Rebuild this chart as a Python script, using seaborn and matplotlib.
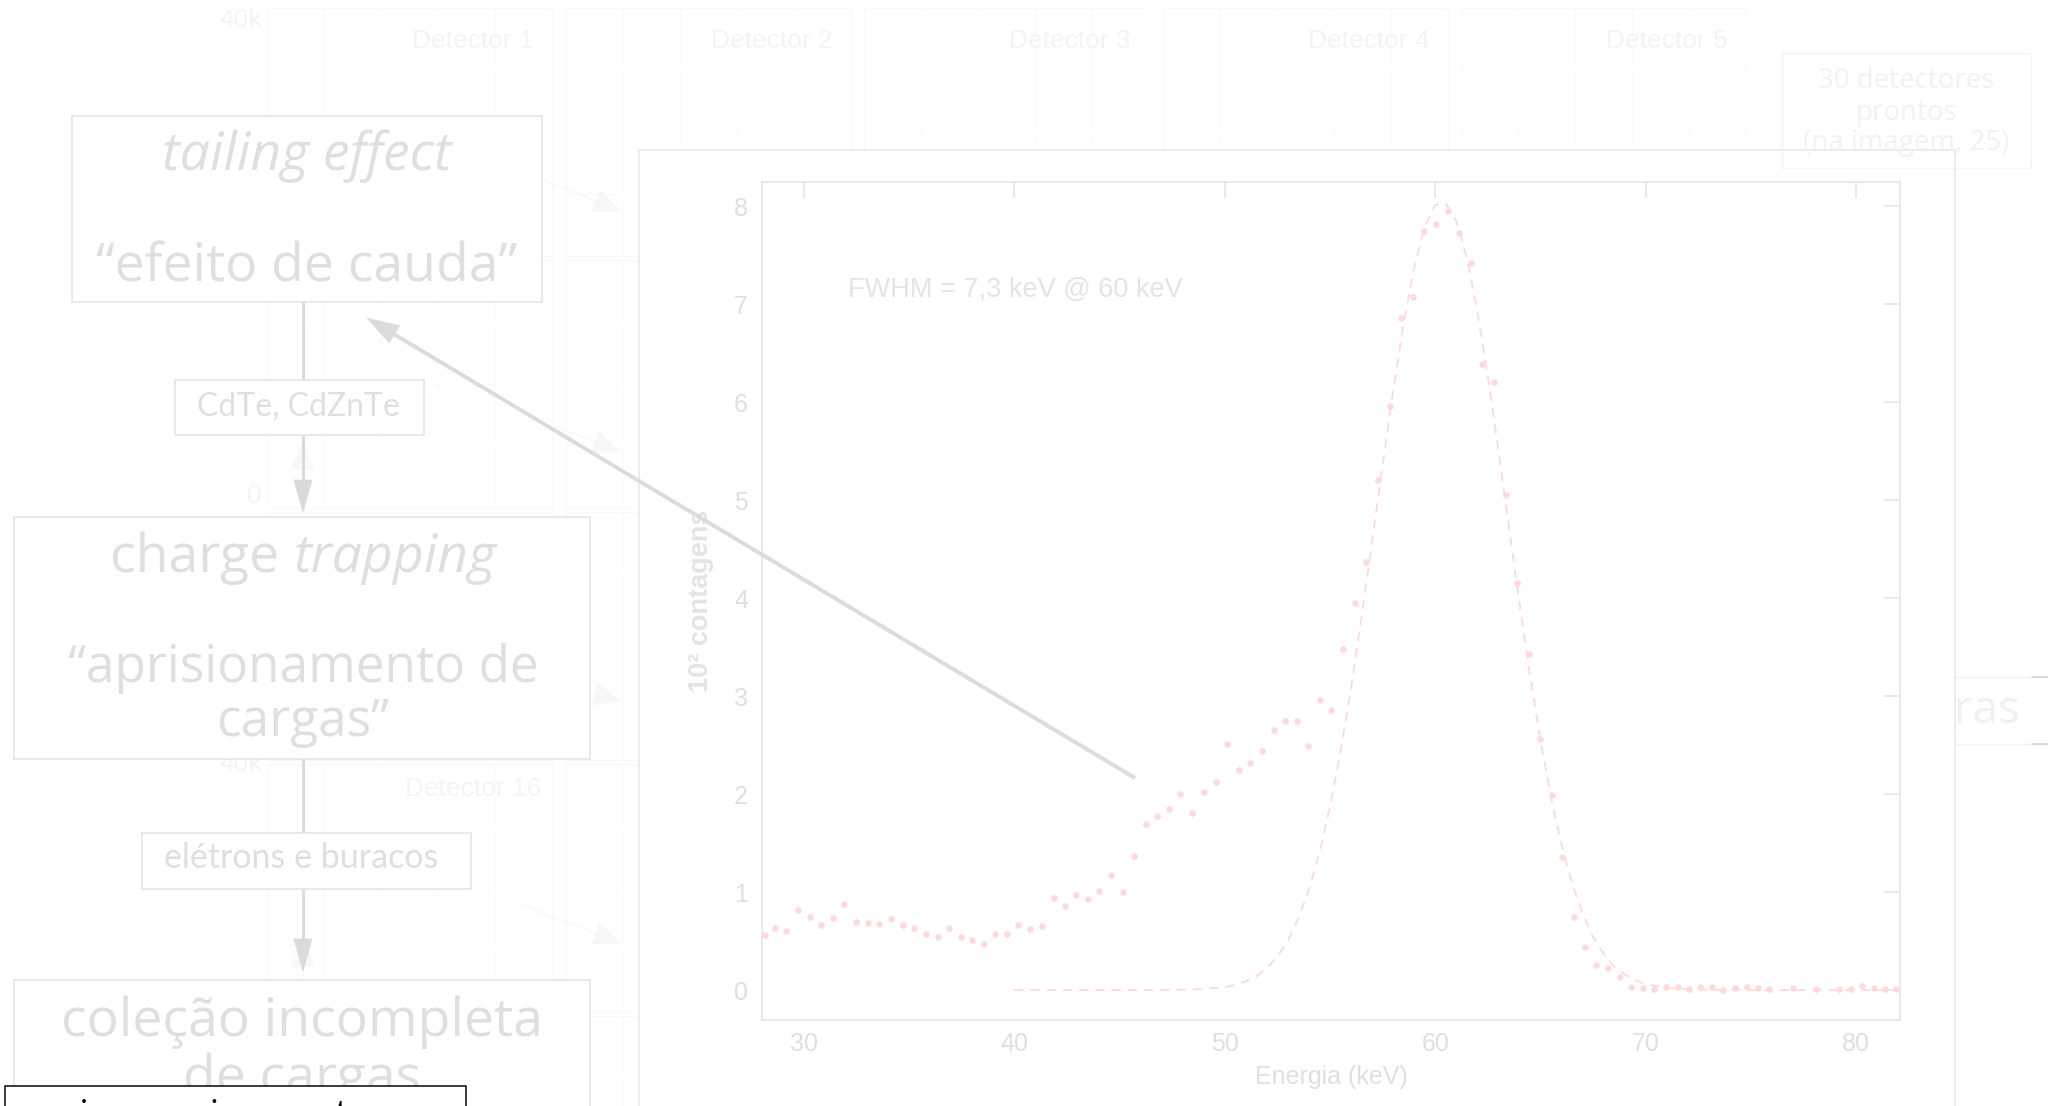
import numpy as np
import pandas as pd
import matplotlib
matplotlib.use("Agg")
import matplotlib.pyplot as plt
import seaborn as sns
from matplotlib.patches import Rectangle, Polygon

# ---------------- data ----------------
energy_kev = [28.14, 28.63, 29.17, 29.74, 30.28, 30.84, 31.38, 31.93, 32.48, 33.04,
              33.59, 34.14, 34.70, 35.25, 35.80, 36.36, 36.90, 37.45, 38.00, 38.56,
              39.11, 39.65, 40.20, 40.76, 41.31, 41.87, 42.40, 42.96, 43.51, 44.05,
              44.60, 45.15, 45.71, 46.26, 46.80, 47.37, 47.90, 48.46, 49.01, 49.57,
              50.12, 50.67, 51.21, 51.77, 52.32, 52.88, 53.43, 53.97, 54.52, 55.07,
              55.61, 56.18, 56.73, 57.27, 57.83, 58.38, 58.93, 59.49, 60.04, 60.59,
              61.15, 61.70, 62.24, 62.80, 63.35, 63.90, 64.44, 65.00, 65.55, 66.02,
              66.58, 67.11, 67.66, 68.21, 68.77, 69.30, 69.85, 70.40, 70.96, 71.52,
              72.05, 72.60, 73.13, 73.69, 74.24, 74.80, 75.35, 75.88, 76.99, 78.10,
              79.18, 79.73, 80.28, 80.83, 81.37, 81.90]
counts_1e2 = [0.56, 0.63, 0.60, 0.82, 0.75, 0.66, 0.73, 0.88, 0.69, 0.68,
              0.67, 0.72, 0.66, 0.63, 0.57, 0.54, 0.63, 0.54, 0.51, 0.47,
              0.57, 0.57, 0.66, 0.62, 0.65, 0.94, 0.86, 0.97, 0.93, 1.01,
              1.17, 1.00, 1.37, 1.69, 1.78, 1.85, 2.00, 1.81, 2.02, 2.12,
              2.51, 2.24, 2.32, 2.44, 2.65, 2.74, 2.75, 2.49, 2.96, 2.86,
              3.48, 3.95, 4.37, 5.20, 5.96, 6.86, 7.07, 7.74, 7.82, 7.95,
              7.72, 7.42, 6.39, 6.20, 5.05, 4.15, 3.43, 2.56, 1.99, 1.36,
              0.74, 0.44, 0.26, 0.22, 0.13, 0.03, 0.02, 0.01, 0.03, 0.03,
              0.01, 0.03, 0.03, 0.00, 0.02, 0.03, 0.02, 0.01, 0.02, 0.01,
              0.01, 0.01, 0.04, 0.02, 0.01, 0.01]

fit_energy_kev = [40, 42, 44, 46, 48, 49, 50,
                  50.5, 51, 51.5, 52, 52.5, 53, 53.5, 54, 54.5, 55,
                  55.5, 56, 56.5, 57, 57.5, 58, 58.5, 59, 59.5, 60,
                  60.5, 61, 61.5, 62, 62.5, 63, 63.5, 64, 64.5, 65,
                  65.5, 66, 66.5, 67, 67.5, 68, 68.5, 69, 69.5, 70,
                  71, 72, 73, 74, 76, 78, 80, 82]
fit_counts_1e2 = [0.0, 0.0, 0.0, 0.0, 0.003, 0.01, 0.03,
                  0.05, 0.09, 0.14, 0.22, 0.34, 0.50, 0.73, 1.02, 1.40, 1.87,
                  2.43, 3.08, 3.80, 4.57, 5.35, 6.11, 6.80, 7.37, 7.79, 8.01,
                  8.03, 7.85, 7.47, 6.93, 6.26, 5.51, 4.73, 3.95, 3.22, 2.55,
                  1.97, 1.49, 1.09, 0.78, 0.54, 0.37, 0.24, 0.16, 0.10, 0.06,
                  0.02, 0.006, 0.002, 0.0, 0.0, 0.0, 0.0, 0.0]

x_ticks = [30, 40, 50, 60, 70, 80]
y_ticks = [0, 1, 2, 3, 4, 5, 6, 7, 8]
x_label = "Energia (keV)"
y_label = "10² contagens"
fwhm_note = "FWHM = 7,3 keV @ 60 keV"

detector_titles = ["Detector 1", "Detector 2", "Detector 3", "Detector 4", "Detector 5"]
detector_title_low = "Detector 16"
bg_axis_labels = ["40k", "0", "40k"]
ready_note = ["30 detectores", "prontos", "(na imagem, 25)"]
side_word = "amostras"
flow_top = ["tailing effect", "“efeito de cauda”"]
flow_material = "CdTe, CdZnTe"
flow_mid = [("charge ", "normal"), ("trapping", "italic")]
flow_mid_pt = ["“aprisionamento de", "cargas”"]
flow_carriers = "elétrons e buracos"
flow_bottom = ["coleção incompleta", "de cargas"]
black_box_lines = ["cria um pico em torno", "de energias menores"]

# ---------------- style ----------------
sns.set_theme(style="white")
plt.rcParams['font.family'] = ['Liberation Sans', 'DejaVu Sans']

W, H = 2048, 1106
PX = 0.72  # points per pixel at dpi=100
fig = plt.figure(figsize=(W / 100, H / 100), dpi=100)
fig.patch.set_facecolor("white")

bg = fig.add_axes([0, 0, 1, 1], zorder=0)
bg.set_xlim(0, W)
bg.set_ylim(H, 0)
bg.axis("off")

GRID = "#f9f9f9"
FAINT_TXT = "#f4f4f4"
BOX_EDGE = "#e3e3e3"
TXT = "#dfdfdf"
CONN = "#dadada"

# faint background: detector spectra grid
col_left = [267, 566, 864, 1163, 1461]
row_top = [8, 260, 512, 764, 1016]
for cl in col_left:
    for rt in row_top:
        bg.add_patch(Rectangle((cl, rt), 285, 248, fill=False, ec=GRID, lw=0.8, zorder=0))
        for gx in range(1, 5):
            bg.plot([cl + gx * 57, cl + gx * 57], [rt, rt + 248], color=GRID, lw=0.5, zorder=0)
        for gy in range(1, 4):
            bg.plot([cl, cl + 285], [rt + gy * 62, rt + gy * 62], color=GRID, lw=0.5, zorder=0)
for cl, title in zip(col_left, detector_titles):
    bg.text(cl + 206, 48, title, color=FAINT_TXT, fontsize=19, ha="center",
            va="baseline", zorder=0)
bg.text(473, 796, detector_title_low, color=FAINT_TXT, fontsize=19, ha="center",
        va="baseline", zorder=0)
for lbl, yy in zip(bg_axis_labels, [20, 496, 764]):
    bg.text(262, yy, lbl, color=FAINT_TXT, fontsize=19, ha="right", va="center", zorder=0)


def arrow_px(ax, x0, y0, x1, y1, color, lw_px, head_len, head_half, z):
    d = np.array([x1 - x0, y1 - y0], dtype=float)
    L = np.hypot(*d)
    u = d / L
    n = np.array([-u[1], u[0]])
    base = np.array([x1, y1]) - head_len * u
    ax.plot([x0, base[0]], [y0, base[1]], color=color, lw=lw_px * PX,
            solid_capstyle="butt", zorder=z)
    ax.add_patch(Polygon([[x1, y1], base + head_half * n, base - head_half * n],
                         closed=True, fc=color, ec=color, lw=0.5, zorder=z))


# faint background arrows
for (x0, y0, x1, y1) in [(542, 179, 620, 211), (560, 428, 620, 452),
                         (555, 683, 620, 701), (522, 905, 620, 943)]:
    arrow_px(bg, x0, y0, x1, y1, "#f7f7f7", 1.2, 26, 11, 0.5)
for (x0, y0, x1, y1) in [(303, 500, 303, 443), (303, 1000, 303, 940)]:
    arrow_px(bg, x0, y0, x1, y1, "#f8f8f8", 1.2, 26, 11, 0.5)

# right side faint box partly under the panel
bg.add_patch(Rectangle((1880, 677), 200, 67, fc="white", ec="#f3f3f3", lw=1.0, zorder=1))
bg.text(2021, 723, side_word, color="#f0f0f0", fontsize=33,
        family=["Open Sans", "DejaVu Sans"], ha="right", va="baseline", zorder=1)
bg.plot([2032, 2048], [677, 677], color="#d2d2d2", lw=1.5 * PX, zorder=1)
bg.plot([2032, 2048], [744, 744], color="#d2d2d2", lw=1.5 * PX, zorder=1)

# panel holding the spectrum
bg.add_patch(Rectangle((639, 150), 1316, 1000, fc="white", ec="#e6e6e6", lw=1.5 * PX, zorder=2))

# "30 detectores" note, drawn over the panel edge
bg.add_patch(Rectangle((1782, 53), 249, 115, fill=False, ec="#f4f4f4", lw=1.0, zorder=2.2))
for s, yy in zip(ready_note, [88, 120, 150]):
    bg.text(1906, yy, s, color="#f2f2f2", fontsize=20, family=["Open Sans", "DejaVu Sans"],
            ha="center", va="baseline", zorder=2.2)

# left flow boxes
OS = ["Open Sans", "DejaVu Sans"]
LATO = ["Lato", "DejaVu Sans"]
for (x, y, w, h) in [(72, 116, 470, 186), (175, 380, 249, 55), (14, 517, 576, 242),
                     (142, 833, 329, 56), (14, 980, 576, 220)]:
    bg.add_patch(Rectangle((x, y), w, h, fc="white", ec=BOX_EDGE, lw=1.5 * PX, zorder=3))

bg.plot([303, 303], [302, 380], color=CONN, lw=3 * PX, zorder=2.5)
arrow_px(bg, 303, 435, 303, 512, CONN, 3, 32, 9, 2.5)
bg.plot([303, 303], [759, 833], color=CONN, lw=3 * PX, zorder=2.5)
arrow_px(bg, 303, 889, 303, 971, CONN, 3, 32, 9, 2.5)

BIG = 38.5
bg.text(307, 170, flow_top[0], color=TXT, fontsize=BIG, family=OS, style="italic",
        ha="center", va="baseline", zorder=4)
bg.text(307, 282, flow_top[1], color=TXT, fontsize=BIG, family=OS,
        ha="center", va="baseline", zorder=4)
bg.text(298, 416, flow_material, color=TXT, fontsize=23, family=LATO,
        ha="center", va="baseline", zorder=4)
bg.text(301, 868, flow_carriers, color=TXT, fontsize=24.5, family=LATO,
        ha="center", va="baseline", zorder=4)
bg.text(303, 682, flow_mid_pt[0], color=TXT, fontsize=37, family=OS,
        ha="center", va="baseline", zorder=4)
bg.text(303, 736, flow_mid_pt[1], color=TXT, fontsize=37, family=OS,
        ha="center", va="baseline", zorder=4)
bg.text(302, 1036, flow_bottom[0], color=TXT, fontsize=BIG, family=OS,
        ha="center", va="baseline", zorder=4)
bg.text(302, 1093, flow_bottom[1], color=TXT, fontsize=BIG, family=OS,
        ha="center", va="baseline", zorder=4)

# "charge trapping" with mixed style, centred
renderer = fig.canvas.get_renderer()
parts = []
for s, st in flow_mid:
    t = bg.text(0, 572, s.strip(), color=TXT, fontsize=BIG, family=OS, style=st,
                ha="left", va="baseline", zorder=4)
    parts.append(t)
space_w = BIG / PX * 0.26
widths = [p.get_window_extent(renderer).width for p in parts]
total = sum(widths) + space_w
cur = 303 - total / 2
for p, w in zip(parts, widths):
    p.set_x(cur)
    cur += w + space_w

# ---------------- spectrum axes ----------------
L, R, T, B = 762, 1900, 182, 1020
ax = fig.add_axes([L / W, 1 - B / H, (R - L) / W, (B - T) / H], zorder=3)
ax.set_facecolor("white")

DOT = "#ffdada"
sns.lineplot(x=fit_energy_kev, y=fit_counts_1e2, ax=ax, color="#ffd9d9",
             lw=1.3, estimator=None, sort=True, zorder=2)
for ln in ax.get_lines():
    ln.set_dashes([5, 4])
sns.scatterplot(x=energy_kev, y=counts_1e2, ax=ax, color=DOT, s=22,
                linewidth=0, zorder=3)

ax.set_xlim(28.02, 82.08)
ax.set_ylim(-0.306, 8.245)
ax.set_xticks(x_ticks)
ax.set_yticks(y_ticks)
AXC = "#e3e3e3"
LBLC = "#dfdfdf"
for sp in ax.spines.values():
    sp.set_color(AXC)
    sp.set_linewidth(1.5 * PX)
    sp.set_visible(True)
ax.tick_params(axis="both", direction="in", length=11.5, width=1.1, color=AXC,
               labelcolor=LBLC, labelsize=18, top=True, right=True,
               labeltop=False, labelright=False)
ax.tick_params(axis="x", pad=8.5)
ax.tick_params(axis="y", pad=10)
ax.set_xlabel(x_label, fontsize=18, color=LBLC, va="center")
ax.xaxis.set_label_coords(0.5, -(1077 - B) / (B - T))
ax.set_ylabel(y_label, fontsize=19.5, color="#e4e4e4", fontweight="bold", va="center")
ax.yaxis.set_label_coords(-(L - 701) / (R - L), 0.5)
ax.grid(False)
ax.text(848, 296.7, fwhm_note, transform=bg.transData, fontsize=19.5, color="#e4e4e4",
        ha="left", va="baseline", zorder=5)

# ---------------- overlay: big arrow and black box ----------------
top = fig.add_axes([0, 0, 1, 1], zorder=6)
top.set_xlim(0, W)
top.set_ylim(H, 0)
top.axis("off")
top.patch.set_alpha(0)
arrow_px(top, 1135, 778, 367, 318, "#dcdcdc", 4, 32, 10, 5)

top.add_patch(Rectangle((5, 1086), 461, 60, fc="white", ec="black", lw=1.5 * PX, zorder=5))
top.text(46, 1127, black_box_lines[0], color="black", fontsize=27, family=OS,
         ha="left", va="baseline", zorder=6)
top.text(46, 1180, black_box_lines[1], color="black", fontsize=27, family=OS,
         ha="left", va="baseline", zorder=6)

fig.savefig("out.png", dpi=100, facecolor="white")
